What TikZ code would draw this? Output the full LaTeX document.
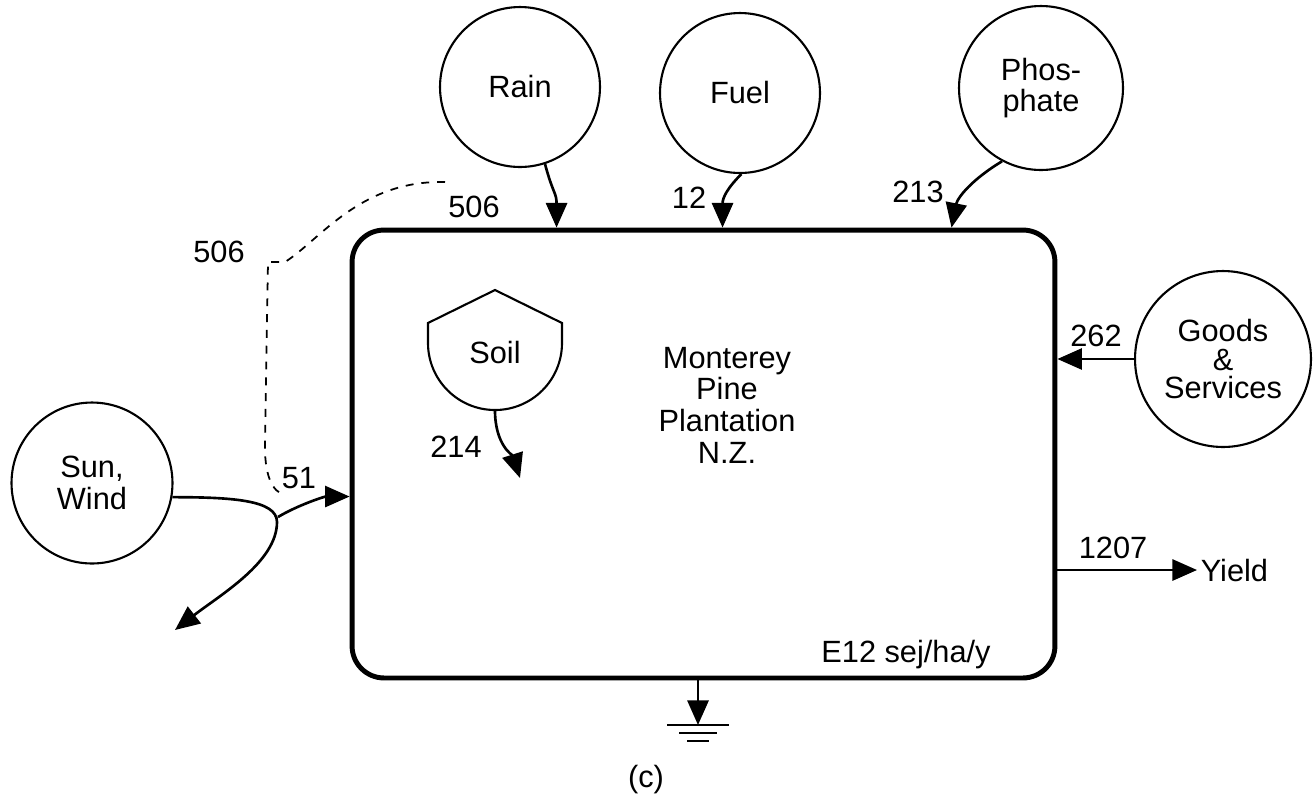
\documentclass[tikz,border=0pt]{standalone}
\usepackage{fontspec}
\setmainfont{Liberation Sans}
\usetikzlibrary{arrows.meta, positioning}

\begin{document}
\begin{tikzpicture}[
    x=0.02cm, y=-0.02cm,
    font=\fontsize{17.5}{18}\selectfont,
    every node/.style={inner sep=2pt},
    src/.style={draw, circle, line width=1.2pt, align=center},
    plant/.style={draw, rounded corners=0.64cm, line width=2.8pt, minimum width=14.06cm, minimum height=8.96cm},
    arr/.style={-{Triangle[length=14pt, width=12pt]}, line width=1.5pt},
    flow/.style={line width=1.2pt},
    tag/.style={dash pattern=on 4.5pt off 4.5pt, line width=1pt}
  ]
  \useasboundingbox (0,0) rectangle (1316,796);

  \node[plant] (box) at (703.5,454) {};
  \node[align=center] (name) at (727,405) {Monterey\\Pine\\Plantation\\N.Z.};
  \node (units) at (906,655) {E12 sej/ha/y};

  % sources
  \node[src, minimum size=3.2cm] (rain) at (520,87) {Rain};
  \node[src, minimum size=3.2cm] (fuel) at (740,93) {Fuel};
  \node[src, minimum size=3.28cm, font=\fontsize{17.5}{18}\selectfont] (phos) at (1041,88) {Phos-\\phate};
  \node[src, minimum size=3.52cm, font=\fontsize{17.5}{16.5}\selectfont] (goods) at (1223,359) {Goods\\\&\\Services};
  \node[src, minimum size=3.22cm] (sun) at (92,483) {Sun,\\Wind};

  % soil storage
  \draw[flow] (495,290) -- (562,323) -- (562,343) .. controls (562,380) and (532,410) .. (495,410)
    .. controls (458,410) and (428,380) .. (428,343) -- (428,323) -- cycle;
  \node[minimum width=2.68cm, minimum height=2.32cm] (soil) at (495,352) {Soil};

  \node[anchor=west] (yield) at (1197,570) {Yield};

  \coordinate (knot) at (277,522);
  \coordinate (fork) at (278,517);
  \coordinate (loss) at (175,630);
  \coordinate (soilout) at (520,478);
  \coordinate (gnd) at (698,725);
  \coordinate (tagtop) at (445,182);
  \coordinate (tagbot) at (285,495);

  % flows
  \draw[arr] (rain.-72) .. controls +(8,30) and +(0,-35) .. ([xshift=4.14cm]box.north west);
  \draw[arr] (fuel.-89) .. controls +(-14,14) and +(0,-30) .. ([xshift=7.46cm]box.north west);
  \draw[arr] (phos.-118) .. controls +(-30,18) and +(6,-30) .. ([xshift=12.04cm]box.north west);
  \draw[arr] (goods.west) -- (goods.west -| box.east);
  \draw[arr] (box.east |- yield.west) -- (yield.west);
  \draw[arr] (sun.-10) .. controls +(60,0) and +(0,-22) .. (knot) .. controls +(0,40) and +(45,-35) .. (loss);
  \draw[arr] (fork) .. controls +(20,-12) and +(-25,0) .. ([yshift=-5.38cm]box.north west);
  \draw[arr] (soil.south) .. controls +(0,35) and +(-7,-22) .. (soilout);
  \draw[tag] (tagtop) .. controls (360,180) and (320,240) .. (285,262) -- (268,262) -- (265,440)
    .. controls (264,475) and (272,492) .. (tagbot);

  % heat sink
  \draw[arr] (gnd |- box.south) -- (gnd);
  \foreach \w/\d in {31/0, 19/8, 11/16}
    \draw[flow] (gnd) ++(-\w,\d) -- ++(2*\w,0);

  % values
  \node (l506a) at (474,207) {506};
  \node (l506b) at (219,252) {506};
  \node (l12) at (689,198) {12};
  \node (l213) at (918,192) {213};
  \node (l262) at (1096,336) {262};
  \node (l214) at (456,447) {214};
  \node (l51) at (299,478) {51};
  \node (l1207) at (1113,548) {1207};
  \node (caption) at (646,780) {(c)};
\end{tikzpicture}
\end{document}
